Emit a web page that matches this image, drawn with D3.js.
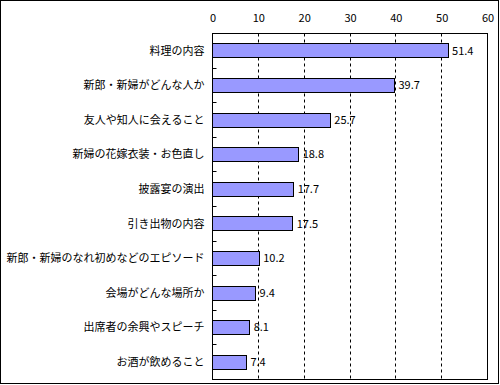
<!DOCTYPE html>
<meta charset="utf-8"/>
<style>
  body { margin: 0; background: #fff; }
  text { font-family: "Noto Sans CJK JP", sans-serif; fill: #000; }
</style>
<svg width="500" height="385"></svg>
<script src="https://cdn.jsdelivr.net/npm/d3@7"></script>
<script>

var categories = ["料理の内容", "新郎・新婦がどんな人か", "友人や知人に会えること", "新婦の花嫁衣装・お色直し",
    "披露宴の演出", "引き出物の内容", "新郎・新婦のなれ初めなどのエピソード", "会場がどんな場所か",
    "出席者の余興やスピーチ", "お酒が飲めること"];
var values = [51.4, 39.7, 25.7, 18.8, 17.7, 17.5, 10.2, 9.4, 8.1, 7.4];
var ticks = [0, 10, 20, 30, 40, 50, 60];

var svg = d3.select("svg"),
    margin = {top: 33, left: 212},
    width = 275,
    height = 346;

// outer frame
svg.append("rect")
    .attr("x", 0.5).attr("y", 0.5)
    .attr("width", 498).attr("height", 383)
    .attr("fill", "none").attr("stroke", "#000");

var g = svg.append("g").attr("transform", "translate(" + (margin.left + 0.5) + "," + (margin.top + 0.5) + ")");

var x = d3.scaleLinear().domain([0, 60]).range([0, width]);
var y = d3.scaleBand().domain(categories).range([0, height]).paddingInner(0.6).paddingOuter(0.3);

// dashed grid
g.selectAll(".grid")
  .data(ticks.filter(function(d) { return d > 0 && d < 60; }))
  .enter().append("line")
    .attr("x1", function(d) { return Math.round(x(d)); })
    .attr("x2", function(d) { return Math.round(x(d)); })
    .attr("y1", 0).attr("y2", height)
    .attr("stroke", "#000")
    .attr("stroke-dasharray", "3,3");

// top axis labels
g.append("g")
    .call(d3.axisTop(x).tickValues(ticks).tickSize(0).tickPadding(12))
    .call(function(a) {
      a.select(".domain").remove();
      a.selectAll("text").style("font-size", "11px").style("font-family", "\"Noto Sans CJK JP\", sans-serif");
    });

// bars
g.selectAll(".bar")
  .data(values)
  .enter().append("rect")
    .attr("x", 0)
    .attr("y", function(d, i) { return Math.round(y(categories[i])); })
    .attr("width", function(d) { return Math.round(x(d)); })
    .attr("height", Math.round(y.bandwidth()))
    .attr("fill", "#9999ff")
    .attr("stroke", "#000");

// value labels
g.selectAll(".val")
  .data(values)
  .enter().append("text")
    .attr("x", function(d) { return x(d) + 4; })
    .attr("y", function(d, i) { return y(categories[i]) + y.bandwidth() / 2; })
    .attr("dy", "0.35em")
    .style("font-size", "11px")
    .text(function(d) { return d.toFixed(1); });

// category labels
g.selectAll(".cat")
  .data(categories)
  .enter().append("text")
    .attr("x", -8)
    .attr("y", function(d) { return y(d) + y.bandwidth() / 2; })
    .attr("dy", "0.35em")
    .attr("text-anchor", "end")
    .style("font-size", "11px")
    .text(function(d) { return d; });

// inner ticks at category boundaries
g.selectAll(".ctick")
  .data(d3.range(1, categories.length))
  .enter().append("line")
    .attr("x1", 0).attr("x2", 4)
    .attr("y1", function(i) { return Math.round(i * y.step()); })
    .attr("y2", function(i) { return Math.round(i * y.step()); })
    .attr("stroke", "#000");

// plot frame
g.append("rect")
    .attr("width", width).attr("height", height)
    .attr("fill", "none").attr("stroke", "#000");

</script>
